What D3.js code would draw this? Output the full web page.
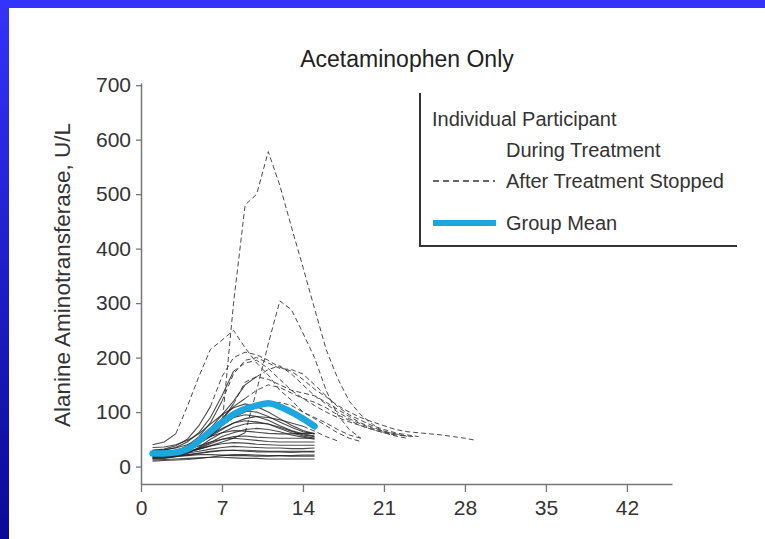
<!DOCTYPE html>
<html>
<head>
<meta charset="utf-8">
<script src="https://cdn.jsdelivr.net/npm/d3@7"></script>
<style>
  body { margin: 0; padding: 0; }
  svg { display: block; font-family: "Liberation Sans", Arial, sans-serif; }
</style>
</head>
<body>
<script>
// study days for the daily measurements
const days = [1, 2, 3, 4, 5, 6, 7, 8, 9, 10, 11, 12, 13, 14, 15];

// participants who stayed on treatment to day 15 (ALT, U/L per day)
const completers = [
  [12, 13, 14, 15, 16, 17, 17, 16, 15, 15, 14, 14, 14, 14, 14],
  [15, 16, 18, 20, 22, 22, 21, 20, 20, 19, 19, 20, 20, 21, 21],
  [18, 19, 20, 22, 25, 28, 30, 30, 28, 27, 27, 27, 26, 27, 27],
  [20, 21, 22, 25, 28, 32, 35, 37, 36, 35, 34, 34, 33, 33, 34],
  [22, 22, 24, 27, 32, 38, 42, 44, 43, 41, 40, 39, 39, 39, 39],
  [25, 25, 27, 31, 38, 45, 50, 52, 50, 48, 46, 45, 45, 45, 45],
  [16, 17, 20, 25, 33, 42, 50, 55, 56, 54, 53, 52, 52, 52, 52],
  [28, 28, 30, 35, 45, 55, 62, 66, 65, 63, 61, 60, 60, 61, 61],
  [14, 15, 18, 24, 35, 50, 62, 72, 78, 80, 78, 72, 65, 58, 55],
  [30, 31, 34, 40, 50, 65, 80, 90, 95, 92, 85, 75, 66, 60, 56],
  [24, 25, 28, 35, 48, 65, 82, 95, 102, 100, 92, 82, 72, 64, 60],
  [35, 36, 40, 48, 60, 78, 95, 108, 115, 110, 100, 88, 76, 66, 60],
  [10, 11, 12, 13, 15, 17, 20, 22, 22, 21, 20, 20, 19, 19, 19],
  [20, 20, 22, 26, 34, 44, 55, 62, 68, 70, 68, 64, 58, 54, 50],
  [26, 27, 30, 36, 46, 58, 70, 80, 84, 82, 78, 70, 62, 56, 52],
  [18, 18, 19, 21, 24, 27, 29, 30, 30, 29, 28, 28, 28, 28, 28]
];

// participants whose treatment was stopped: values from day 1 up to the stop day
const stoppedDuring = [
  [25, 27, 30, 35, 45, 55, 75],
  [20, 22, 24, 27, 32, 38, 45, 52, 62],
  [40, 45, 60],
  [30, 32, 38, 50, 75, 110],
  [22, 24, 28, 38, 55, 80, 120],
  [18, 20, 24, 30, 42, 60, 85, 115],
  [24, 25, 28, 34, 46, 64, 88, 110, 125],
  [28, 30, 35, 45, 62, 90, 130, 175],
  [16, 18, 22, 30, 42, 58, 75, 90, 100, 108, 112],
  [20, 22, 26, 35, 50, 70, 95, 120, 150, 165],
  [22, 23, 26, 32, 42, 55, 68, 80, 88, 92, 90, 86, 80, 74]
];

// the same participants after treatment was stopped: [day, ALT]
const stoppedAfter = [
  [[7, 75], [8, 300], [9, 480], [10, 500], [11, 578], [12, 516], [13, 440], [14, 366], [15, 290], [16, 215], [17, 162], [18, 120], [19, 95], [20, 78], [21, 63], [22, 58], [23.6, 55]],
  [[9, 62], [10, 140], [11, 225], [12, 304], [13, 288], [14, 245], [15, 200], [16, 140], [17, 95], [18, 68], [19, 52]],
  [[3, 60], [4, 110], [5, 165], [6, 215], [7, 232], [8, 250], [9, 218], [10, 190], [11, 168], [12, 140], [13, 122], [14, 100], [15, 90], [16, 80], [17, 68], [18, 58], [19, 52]],
  [[6, 110], [7, 165], [8, 200], [9, 210], [10, 205], [11, 195], [12, 182], [13, 175], [14, 160], [15, 142], [16, 128], [17, 112], [18, 100], [19, 90], [20, 82], [21, 75], [22, 68], [23, 64], [24, 62], [25, 60], [26, 58], [27, 55], [28, 52], [29, 48]],
  [[7, 120], [8, 170], [9, 195], [10, 200], [11, 190], [12, 180], [13, 178], [14, 170], [15, 150], [16, 130], [17, 110], [18, 95], [19, 85], [20, 75], [21, 68], [22, 62], [23, 58], [24, 55]],
  [[8, 115], [9, 155], [10, 165], [11, 160], [12, 150], [13, 140], [14, 135], [15, 130], [16, 118], [17, 105], [18, 92], [19, 80], [20, 72], [21, 65], [22, 60], [23, 55]],
  [[9, 125], [10, 140], [11, 150], [12, 145], [13, 135], [14, 125], [15, 118], [16, 108], [17, 95], [18, 85], [19, 75], [20, 68], [21, 62], [22, 58]],
  [[8, 175], [9, 190], [10, 195], [11, 180], [12, 160], [13, 140], [14, 125], [15, 112], [16, 100], [17, 90], [18, 82], [19, 75], [20, 68], [21, 62], [22, 56], [23, 52]],
  [[11, 112], [12, 118], [13, 112], [14, 100], [15, 88], [16, 75], [17, 62], [18, 52], [19, 46]],
  [[10, 165], [11, 178], [12, 185], [13, 170], [14, 150], [15, 130], [16, 115], [17, 100], [18, 88], [19, 78], [20, 70], [21, 64], [22, 60], [23, 56]],
  [[14, 74], [15, 65], [16, 55], [17, 47]]
];

// group mean by day
const groupMean = [24, 24, 26, 32, 47, 65, 81, 96, 106, 112, 116, 110, 100, 88, 74];

const xTicks = [0, 7, 14, 21, 28, 35, 42];
const yTicks = [0, 100, 200, 300, 400, 500, 600, 700];
const legendLabels = ["Individual Participant", "During Treatment", "After Treatment Stopped", "Group Mean"];

const W = 765, H = 539;
const svg = d3.select("body").append("svg")
  .attr("width", W)
  .attr("height", H);

// blue frame
const grad = svg.append("defs").append("linearGradient")
  .attr("id", "frame")
  .attr("x1", 0).attr("y1", 0).attr("x2", 0).attr("y2", 1);
grad.append("stop").attr("offset", "0%").attr("stop-color", "#3333fb");
grad.append("stop").attr("offset", "100%").attr("stop-color", "#0a0a98");
svg.append("rect").attr("width", W).attr("height", H).attr("fill", "url(#frame)");
svg.append("rect").attr("x", 9).attr("y", 8).attr("width", W - 9).attr("height", H - 8).attr("fill", "#fff");

var x = d3.scaleLinear().domain([0, 45.9]).range([141, 672]);
var y = d3.scaleLinear().domain([-32, 704]).range([484, 83]);

// axes
var xAxis = svg.append("g")
  .attr("transform", "translate(0,484)")
  .call(d3.axisBottom(x).tickValues(xTicks).tickSize(8).tickSizeOuter(0).tickPadding(8));
var yAxis = svg.append("g")
  .attr("transform", "translate(141,0)")
  .call(d3.axisLeft(y).tickValues(yTicks).tickSize(5).tickSizeOuter(0).tickPadding(5));
[xAxis, yAxis].forEach(function(a) {
  a.select(".domain").attr("stroke", "#777").attr("stroke-width", 1.5);
  a.selectAll(".tick line").attr("stroke", "#777").attr("stroke-width", 1.3);
  a.selectAll(".tick text")
    .attr("fill", "#333")
    .style("font-size", "21px")
    .style("font-family", "'Liberation Sans', Arial, sans-serif");
});

var line = d3.line()
  .x(d => x(d[0]))
  .y(d => y(d[1]));

var plot = svg.append("g");

// after treatment stopped (dashed)
plot.selectAll(".after")
  .data(stoppedAfter)
  .enter().append("path")
  .attr("class", "after")
  .attr("d", line)
  .attr("fill", "none")
  .attr("stroke", "#4a4a4a")
  .attr("stroke-width", 1)
  .attr("stroke-dasharray", "5,3");

// during treatment (solid)
var solidRuns = completers.concat(stoppedDuring);
plot.selectAll(".during")
  .data(solidRuns)
  .enter().append("path")
  .attr("class", "during")
  .attr("d", vals => line(vals.map((v, i) => [days[i], v])))
  .attr("fill", "none")
  .attr("stroke", "#1e1e1e")
  .attr("stroke-opacity", 0.8)
  .attr("stroke-width", 1.1);

// group mean
plot.append("path")
  .datum(groupMean.map((v, i) => [days[i], v]))
  .attr("d", line.curve(d3.curveMonotoneX))
  .attr("fill", "none")
  .attr("stroke", "#1ca7df")
  .attr("stroke-width", 6.5)
  .attr("stroke-linecap", "round")
  .attr("stroke-linejoin", "round");

// title
svg.append("text")
  .attr("x", 407)
  .attr("y", 67)
  .attr("text-anchor", "middle")
  .attr("fill", "#222")
  .style("font-size", "23px")
  .text("Acetaminophen Only");

// y label
svg.append("text")
  .attr("transform", "translate(70,275) rotate(-90)")
  .attr("text-anchor", "middle")
  .attr("fill", "#333")
  .style("font-size", "22.5px")
  .text("Alanine Aminotransferase, U/L");

// legend
var legend = svg.append("g");
legend.append("path")
  .attr("d", "M420,93V246H737")
  .attr("fill", "none")
  .attr("stroke", "#333")
  .attr("stroke-width", 2);
var legendPos = [[432, 126], [506, 157], [506, 188], [506, 230]];
legend.selectAll("text")
  .data(legendLabels)
  .enter().append("text")
  .attr("x", (d, i) => legendPos[i][0])
  .attr("y", (d, i) => legendPos[i][1])
  .attr("fill", "#333")
  .style("font-size", "20px")
  .text(d => d);
legend.append("line")
  .attr("x1", 433).attr("x2", 495).attr("y1", 181).attr("y2", 181)
  .attr("stroke", "#333").attr("stroke-width", 1.3).attr("stroke-dasharray", "6,4");
legend.append("line")
  .attr("x1", 433).attr("x2", 496).attr("y1", 223).attr("y2", 223)
  .attr("stroke", "#1ca7df").attr("stroke-width", 6);
</script>
</body>
</html>
